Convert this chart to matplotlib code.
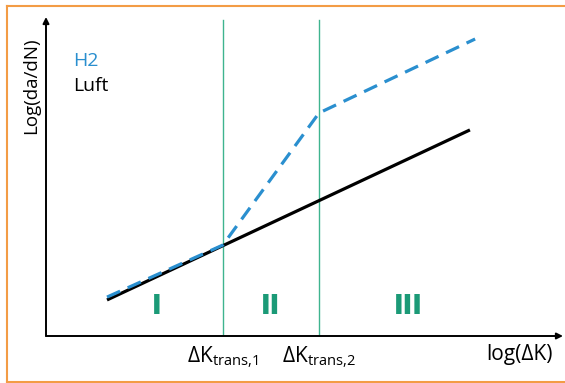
import matplotlib
matplotlib.use("Agg")
import matplotlib.pyplot as plt
from matplotlib.lines import Line2D

plt.rcParams['font.family'] = ['Open Sans', 'DejaVu Sans']
plt.rcParams['mathtext.fontset'] = 'custom'
plt.rcParams['mathtext.rm'] = 'Open Sans'

# Schematic crack growth curves (log-log, arbitrary units)
luft_x = [1.18, 8.20]
luft_y = [1.13, 6.46]
h2_x = [1.18, 3.42, 5.28, 8.30]
h2_y = [1.22, 2.85, 6.99, 9.31]
trans_x = [3.42, 5.28]
trans_labels = [r'$\mathrm{\Delta K_{trans{,}1}}$', r'$\mathrm{\Delta K_{trans{,}2}}$']
region_x = [2.15, 4.35, 7.0]
region_labels = ['I', 'II', 'III']

W, H = 565, 383
fig = plt.figure(figsize=(W / 100, H / 100), dpi=100)
ax = fig.add_axes([46 / W, (H - 336) / H, (563 - 46) / W, (336 - 17) / H])
ax.set_xlim(0, 10)
ax.set_ylim(0, 10)
for s in ax.spines.values():
    s.set_visible(False)
ax.set_xticks([])
ax.set_yticks([])

# axes with arrow heads
arrow = dict(arrowstyle='-|>', color='black', lw=1.4, mutation_scale=9,
             shrinkA=0, shrinkB=0)
ax.annotate('', xy=(1, 0), xytext=(0, 0), xycoords='axes fraction', arrowprops=arrow)
ax.annotate('', xy=(0, 1), xytext=(0, 0), xycoords='axes fraction', arrowprops=arrow)

for x in trans_x:
    ax.plot([x, x], [0, 9.9], color='#3fb48f', lw=1.0)

ax.plot(luft_x, luft_y, color='black', lw=2.3, solid_capstyle='butt')
ax.plot(h2_x, h2_y, color='#2a8fcf', lw=2.3, dashes=(4.5, 2.6))

for x, lab in zip(region_x, region_labels):
    ax.text(x, 0.91, lab, color='#1b9a77', fontsize=20, fontweight='heavy',
            ha='center', va='center')

for x, lab in zip(trans_x, trans_labels):
    ax.text(x, -0.66, lab, fontsize=15, ha='center', va='center', clip_on=False)
ax.text(9.15, -0.57, 'log(ΔK)', fontsize=15, ha='center', va='center', clip_on=False)
ax.text(-0.29, 7.84, 'Log(da/dN)', fontsize=13.5, rotation=90, ha='center', va='center',
        clip_on=False)

ax.text(0.52, 8.62, 'H2', color='#2a8fcf', fontsize=14, ha='left', va='center')
ax.text(0.52, 7.84, 'Luft', color='black', fontsize=14, ha='left', va='center')

# orange frame (open on the right)
oc = '#f39c45'
l, t, b = 7 / W, (H - 6) / H, (H - 382) / H
fig.add_artist(Line2D([l, 1], [t, t], color=oc, lw=1.5, transform=fig.transFigure))
fig.add_artist(Line2D([l, 1], [b, b], color=oc, lw=1.5, transform=fig.transFigure))
fig.add_artist(Line2D([l, l], [b, t], color=oc, lw=1.5, transform=fig.transFigure))

fig.savefig('out.png', dpi=100)
